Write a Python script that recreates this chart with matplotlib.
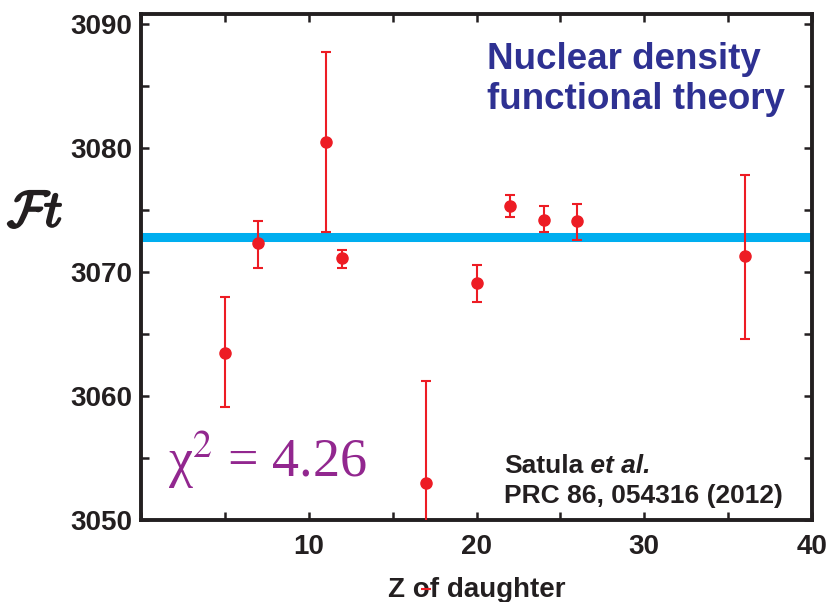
import matplotlib
matplotlib.use('Agg')
import matplotlib.pyplot as plt
import matplotlib.patheffects as pe

# values
z_daughter = [5, 7, 11, 12, 17, 20, 22, 24, 26, 36]
ft_vals = [3063.5, 3072.3, 3080.5, 3071.1, 3053.0, 3069.1, 3075.3, 3074.2, 3074.1, 3071.3]
err_lo = [4.4, 2.0, 7.3, 0.8, 8.6, 1.5, 0.9, 1.0, 1.5, 6.7]
err_hi = [4.5, 1.8, 7.2, 0.7, 8.2, 1.5, 0.9, 1.1, 1.4, 6.5]
ft_avg = 3072.8
chi2 = 4.26
x_ticks = list(range(0, 41, 5))
y_ticks = list(range(3050, 3091, 5))

ink = '#231F20'
plt.rcParams['font.family'] = ['Liberation Sans', 'DejaVu Sans']

fig = plt.figure(figsize=(8.27, 6.02), dpi=100)
ax = fig.add_axes([0.1705, 0.1362, 0.8114, 0.8405])

ax.axhline(ft_avg, color='#00AEEF', lw=6.5, zorder=1)

eb = ax.errorbar(z_daughter, ft_vals, yerr=[err_lo, err_hi], fmt='o',
                 color='#ED1C24', ms=8, elinewidth=1.5, capsize=3.8,
                 capthick=1.5, zorder=3)
# the lower cap of the Z=17 bar sticks out under the axis in the original
for cap in eb[1]:
    cap.set_clip_on(False)

ax.set_xlim(0, 40)
ax.set_ylim(3050, 3090.8)
ax.set_xticks(x_ticks)
ax.set_xticklabels([str(t) if t % 10 == 0 and t > 0 else '' for t in x_ticks],
                   fontweight='bold')
ax.set_yticks(y_ticks)
ax.set_yticklabels([str(t) if t % 10 == 0 else '' for t in y_ticks],
                   fontweight='bold')
ax.tick_params(which='both', direction='in', length=6, width=1.8,
               top=True, right=True, labelsize=20, colors=ink)
ax.tick_params(axis='x', pad=10)
ax.tick_params(axis='y', pad=6)
for sp in ax.spines.values():
    sp.set_linewidth(2.8)
    sp.set_color(ink)

ax.set_xlabel('Z of daughter', fontsize=20, fontweight='bold', color=ink,
              labelpad=12)
fig.text(35 / 827, 1 - 213 / 602, r'$\mathcal{F}\mathit{t}$', fontsize=37,
         color=ink, ha='center', va='center', math_fontfamily='cm',
         path_effects=[pe.withStroke(linewidth=1.6, foreground=ink)])

ax.text(0.96, 0.945, 'Nuclear density\nfunctional theory', transform=ax.transAxes,
        ha='right', va='top', multialignment='left', fontsize=26.5,
        fontweight='bold', color='#2E3192', linespacing=1.2)

ax.text(27 / 671, 0.085, 'χ$^{2}$ = ' + f'{chi2}', transform=ax.transAxes,
        fontsize=39, color='#92278F', family=['Liberation Serif', 'DejaVu Serif'],
        math_fontfamily='stix', ha='left', va='baseline')

t1 = ax.text(363 / 671, 47 / 506, 'Satula', transform=ax.transAxes,
             fontsize=19, fontweight='bold', color=ink, va='baseline')
ax.annotate(' et al.', xy=(1, 0), xycoords=t1, va='bottom', fontsize=19,
            fontweight='bold', style='italic', color=ink)
ax.text(363 / 671, 17 / 506, 'PRC 86, 054316 (2012)', transform=ax.transAxes,
        fontsize=19, fontweight='bold', color=ink, va='baseline')

fig.savefig('out.png', dpi=100)
